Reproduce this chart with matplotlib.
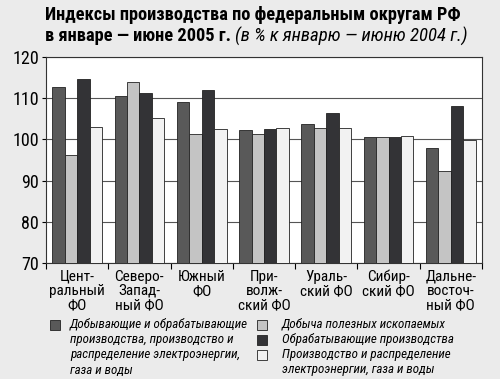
import matplotlib
matplotlib.use("Agg")
import matplotlib.pyplot as plt
import numpy as np
from matplotlib.patches import Rectangle

plt.rcParams['font.family'] = ['Roboto Condensed', 'PT Sans Narrow', 'DejaVu Sans']

categories = ["Цент-\nральный\nФО", "Северо-\nЗапад-\nный ФО", "Южный\nФО",
              "При-\nволж-\nский ФО", "Ураль-\nский ФО", "Сибир-\nский ФО",
              "Дальне-\nвосточ-\nный ФО"]
series_names = ["Добывающие и обрабатывающие\nпроизводства, производство и\nраспределение электроэнергии,\nгаза и воды",
                "Добыча полезных ископаемых",
                "Обрабатывающие производства",
                "Производство и распределение\nэлектроэнергии, газа и воды"]
s1 = [112.8, 110.6, 109.1, 102.3, 103.8, 100.6, 97.9]
s2 = [96.2, 114.0, 101.3, 101.4, 102.7, 100.5, 92.3]
s3 = [114.6, 111.2, 111.9, 102.4, 106.4, 100.5, 108.1]
s4 = [103.1, 105.2, 102.5, 102.8, 102.7, 100.8, 99.8]
yticks = [70, 80, 90, 100, 110, 120]
colors = ["#595959", "#c4c4c4", "#333336", "#f2f2f2"]

fig = plt.figure(figsize=(5.0, 3.79), dpi=100)
fig.patch.set_facecolor("#ebebeb")
ax = fig.add_axes([0.092, 0.306, 0.872, 0.544])
ax.set_facecolor("white")

x = np.arange(len(categories))
w = 0.2
for i, (vals, c) in enumerate(zip([s1, s2, s3, s4], colors)):
    ax.bar(x + (i - 1.5) * w, np.array(vals) - 70, bottom=70, width=w,
           color=c, edgecolor="#222222", linewidth=0.6, zorder=3)

ax.set_xlim(-0.5, len(categories) - 0.5)
ax.set_ylim(70, 120)
ax.set_yticks(yticks)
ax.set_yticklabels([str(t) for t in yticks], fontsize=13)
ax.yaxis.grid(True, color="#555555", linewidth=0.8, zorder=0)
ax.tick_params(axis='y', length=3, width=0.8, pad=2)
ax.set_xticks(np.arange(len(categories) + 1) - 0.5)
ax.set_xticklabels([])
ax.tick_params(axis='x', length=4, width=0.8, direction='out')
for s in ax.spines.values():
    s.set_color("#333333")
    s.set_linewidth(0.8)

for xi, lab in zip(x, categories):
    ax.annotate(lab, xy=(xi, 70), xytext=(0, -5), textcoords="offset points",
                ha="center", va="top", fontsize=11, linespacing=1.0,
                annotation_clip=False)

# Title
t1 = fig.text(0.09, 1 - 15 / 379, "Индексы производства по федеральным округам РФ",
              fontsize=13.2, fontweight="bold", va="center", ha="left")
t2 = fig.text(0.09, 1 - 36 / 379, "в январе — июне 2005 г.",
              fontsize=13.2, fontweight="bold", va="center", ha="left")
fig.canvas.draw()
bb = t2.get_window_extent()
fig.text((bb.x1 + 4) / 500, 1 - 36 / 379, "(в % к январю — июню 2004 г.)",
         fontsize=13.5, fontstyle="italic", va="center", ha="left")

# Legend
lx = [55, 262]
tx = [70, 282]
rows = [(0, 0, series_names[0]), (1, 0, series_names[1]),
        (1, 1, series_names[2]), (1, 2, series_names[3])]
y0 = 325
for idx, (col, row, name) in enumerate(rows):
    yy = y0 + row * 15
    sq = Rectangle(((lx[col] - 5) / 500, 1 - (yy + 5) / 379), 10 / 500, 10 / 379,
                   transform=fig.transFigure, facecolor=colors[idx],
                   edgecolor="#222222", linewidth=0.6)
    fig.patches.append(sq)
    fig.text(tx[col] / 500, 1 - (yy - 7) / 379, name, fontsize=9.4,
             fontstyle="italic", va="top", ha="left", linespacing=1.22)

fig.savefig("out.png", dpi=100, facecolor=fig.get_facecolor())
